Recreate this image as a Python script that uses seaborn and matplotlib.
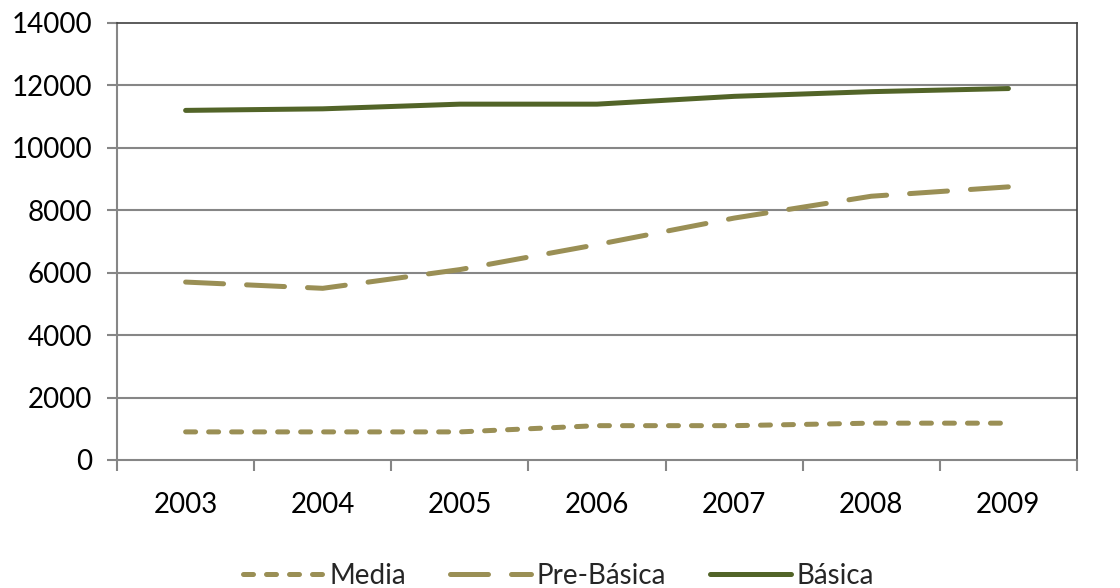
import pandas as pd
import numpy as np
import matplotlib.pyplot as plt
import seaborn as sns

sns.set_theme(style="white")
plt.rcParams["font.family"] = ["Lato", "DejaVu Sans"]

years = [2003, 2004, 2005, 2006, 2007, 2008, 2009]
media = [900, 900, 900, 1100, 1100, 1180, 1180]
pre_basica = [5700, 5500, 6100, 6900, 7750, 8450, 8750]
basica = [11200, 11250, 11400, 11400, 11650, 11800, 11900]

series_names = ["Media", "Pre-Básica", "Básica"]
colors = {"Media": "#9A8F55", "Pre-Básica": "#9A8F55", "Básica": "#526428"}
dashes = {"Media": (2.0, 2.6), "Pre-Básica": (7.6, 4.6), "Básica": ""}

df = pd.DataFrame({
    "Year": years * 3,
    "Value": media + pre_basica + basica,
    "Serie": ["Media"] * 7 + ["Pre-Básica"] * 7 + ["Básica"] * 7,
})

fig = plt.figure(figsize=(11.2, 5.88), dpi=100)
ax = fig.add_axes([0.1045, 0.2177, 0.8571, 0.7432])

sns.lineplot(data=df, x="Year", y="Value", hue="Serie", style="Serie",
             hue_order=series_names, style_order=series_names,
             palette=colors, dashes=dashes, linewidth=3.6,
             solid_capstyle="round", dash_capstyle="round", ax=ax)

ax.set_xlim(2002.5, 2009.5)
ax.set_ylim(0, 14000)
ax.set_yticks(range(0, 14001, 2000))
ax.set_xticks(years)
ax.set_xticks(np.arange(2002.5, 2010, 1), minor=True)
ax.set_xlabel("")
ax.set_ylabel("")

grid_c = "#868686"
for v in range(2000, 14000, 2000):
    ax.axhline(v, color=grid_c, lw=1.5, zorder=0)

for side in ["left", "bottom"]:
    ax.spines[side].set_color(grid_c)
    ax.spines[side].set_linewidth(1.5)
for side in ["top", "right"]:
    ax.spines[side].set_color("#404040")
    ax.spines[side].set_linewidth(1.2)
    ax.spines[side].set_linestyle((0, (1, 1)))

ax.tick_params(axis="y", which="major", direction="out", length=7, width=1.5,
               color=grid_c, labelsize=20, pad=11, left=True)
ax.tick_params(axis="x", which="major", length=0, labelsize=20, pad=23)
ax.tick_params(axis="x", which="minor", direction="out", length=8, width=1.5,
               color=grid_c, bottom=True)
for lab in ax.get_xticklabels() + ax.get_yticklabels():
    lab.set_color("black")

handles, labels = ax.get_legend_handles_labels()
for h in handles:
    h.set_dash_capstyle("round")
    h.set_solid_capstyle("round")
ax.legend(handles, labels, loc="center", bbox_to_anchor=(0.46, -0.265),
          ncol=3, frameon=False, fontsize=20, handlelength=2.9,
          handletextpad=0.2, columnspacing=1.6, borderpad=0)

fig.savefig("out.png", dpi=100)
